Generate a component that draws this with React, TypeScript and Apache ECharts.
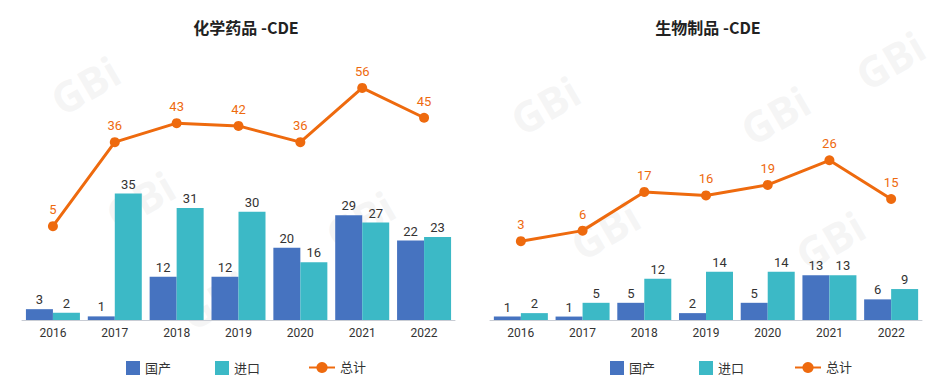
import React, { useEffect, useRef } from "react";
import * as echarts from "echarts";

const years = ["2016", "2017", "2018", "2019", "2020", "2021", "2022"];
const chemDomestic = [3, 1, 12, 12, 20, 29, 22];
const chemImport = [2, 35, 31, 30, 16, 27, 23];
const chemTotal = [5, 36, 43, 42, 36, 56, 45];
const bioDomestic = [1, 1, 5, 2, 5, 13, 6];
const bioImport = [2, 5, 12, 14, 14, 13, 9];
const bioTotal = [3, 6, 17, 16, 19, 26, 15];
const titles = ["化学药品 -CDE", "生物制品 -CDE"];

const BLUE = "#4673C0";
const TEAL = "#3CB9C6";
const ORANGE = "#EE6A0E";
const FONT = 'Roboto, "Noto Sans CJK SC", sans-serif';

const watermarks: [number, number][] = [
  [85, 85], [140, 200], [360, 220], [215, 300],
  [545, 105], [605, 230], [775, 115], [830, 240], [890, 60],
];

export default function App() {
  const ref = useRef<HTMLDivElement>(null);
  useEffect(() => {
    document.body.style.margin = "0";
    const chart = echarts.init(ref.current!, undefined, { renderer: "svg" });
    const barLabel = {
      show: true,
      position: "top" as const,
      distance: 3,
      color: "#333",
      fontSize: 13,
      fontFamily: FONT,
    };
    const lineLabel = {
      show: true,
      position: "top" as const,
      distance: 5,
      color: ORANGE,
      fontSize: 13,
      fontFamily: FONT,
    };
    const xAxisCommon = {
      type: "category" as const,
      data: years,
      axisLine: { lineStyle: { color: "#c8ccd4", width: 1 } },
      axisTick: { show: false },
      axisLabel: { color: "#333", fontSize: 12, fontFamily: FONT, margin: 7 },
    };
    const hiddenY = {
      type: "value" as const,
      show: false,
      splitLine: { show: false },
    };
    const barSeries = (name: string, data: number[], color: string, idx: number) => ({
      name,
      type: "bar" as const,
      xAxisIndex: idx,
      yAxisIndex: idx * 2,
      data,
      barWidth: 27,
      barGap: "0%",
      itemStyle: { color },
      label: barLabel,
      z: 2,
    });
    const lineSeries = (data: number[], idx: number) => ({
      name: "总计",
      type: "line" as const,
      xAxisIndex: idx,
      yAxisIndex: idx * 2 + 1,
      data,
      symbol: "circle",
      symbolSize: 10,
      lineStyle: { color: ORANGE, width: 3 },
      itemStyle: { color: ORANGE },
      label: lineLabel,
      z: 3,
    });
    const legendText = { color: "#333", fontSize: 13, fontFamily: FONT };
    chart.setOption({
      animation: false,
      backgroundColor: "#ffffff",
      graphic: [
        ...watermarks.map(([x, y]) => ({
          type: "text",
          x,
          y,
          rotation: Math.PI / 6,
          silent: true,
          z: -10,
          style: {
            text: "GBi",
            fill: "rgba(220,220,220,0.3)",
            font: 'bold 42px "Open Sans", sans-serif',
            textAlign: "center",
            textVerticalAlign: "middle",
          },
        })),
        {
          type: "text",
          x: 246,
          y: 27,
          style: {
            text: titles[0],
            fill: "#222",
            font: 'bold 16px "Noto Sans CJK SC", sans-serif',
            textAlign: "center",
            textVerticalAlign: "middle",
          },
        },
        {
          type: "text",
          x: 708,
          y: 27,
          style: {
            text: titles[1],
            fill: "#222",
            font: 'bold 16px "Noto Sans CJK SC", sans-serif',
            textAlign: "center",
            textVerticalAlign: "middle",
          },
        },
      ],
      legend: [
        {
          data: ["国产", "进口"],
          left: 121,
          top: 356,
          itemWidth: 14,
          itemHeight: 14,
          itemGap: 44,
          icon: "rect",
          textStyle: legendText,
        },
        {
          data: ["总计"],
          left: 303,
          top: 356,
          itemWidth: 26,
          itemHeight: 14,
          textStyle: legendText,
        },
        {
          data: ["国产", "进口"],
          left: 605,
          top: 356,
          itemWidth: 14,
          itemHeight: 14,
          itemGap: 44,
          icon: "rect",
          textStyle: legendText,
        },
        {
          data: ["总计"],
          left: 789,
          top: 356,
          itemWidth: 26,
          itemHeight: 14,
          textStyle: legendText,
        },
      ],
      grid: [
        { left: 22, width: 433, top: 60, height: 260 },
        { left: 490, width: 432, top: 60, height: 260 },
      ],
      xAxis: [
        { ...xAxisCommon, gridIndex: 0 },
        { ...xAxisCommon, gridIndex: 1 },
      ],
      yAxis: [
        { ...hiddenY, gridIndex: 0, min: 0, max: 72 },
        { ...hiddenY, gridIndex: 0, min: -29.6, max: 66.3 },
        { ...hiddenY, gridIndex: 1, min: 0, max: 75.6 },
        { ...hiddenY, gridIndex: 1, min: -19.4, max: 54.5 },
      ],
      series: [
        barSeries("国产", chemDomestic, BLUE, 0),
        barSeries("进口", chemImport, TEAL, 0),
        lineSeries(chemTotal, 0),
        barSeries("国产", bioDomestic, BLUE, 1),
        barSeries("进口", bioImport, TEAL, 1),
        lineSeries(bioTotal, 1),
      ],
    });
    return () => chart.dispose();
  }, []);
  return (
    <div
      ref={ref}
      style={{ position: "absolute", left: 0, top: 0, width: 946, height: 390 }}
    />
  );
}
